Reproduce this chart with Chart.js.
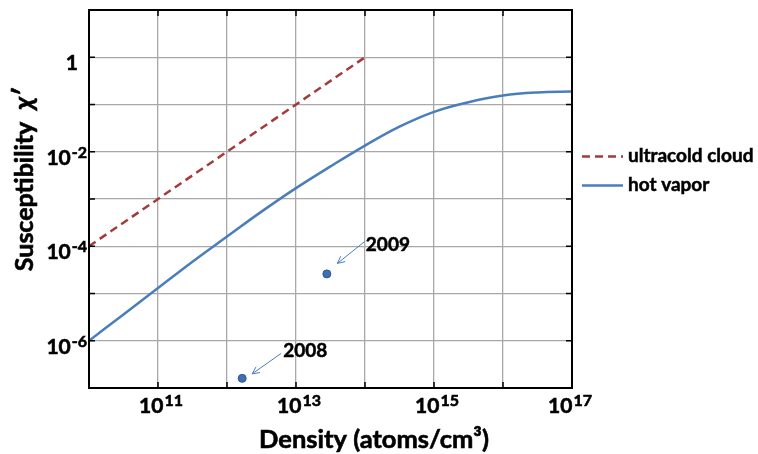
<!DOCTYPE html>
<html>
<head>
<meta charset="utf-8">
<script src="https://cdn.jsdelivr.net/npm/chart.js@4.4.1/dist/chart.umd.min.js"></script>
<style>
  html, body { margin: 0; padding: 0; background: #fff; }
  canvas { display: block; }
</style>
</head>
<body>
<canvas id="chiChart" width="758" height="454"></canvas>
<script>
// hot vapor: susceptibility vs atom density
const vaporDensity = [1e10, 3.16e10, 1e11, 3.16e11, 1e12, 3.16e12, 1e13, 3.16e13, 1e14, 3.16e14, 1e15, 3.16e15, 1e16, 3.16e16, 1e17];
const vaporChi = [1.0e-6, 3.6e-6, 1.3e-5, 4.7e-5, 1.6e-4, 5.4e-4, 1.7e-3, 4.9e-3, 1.35e-2, 3.4e-2, 7.0e-2, 1.12e-1, 1.55e-1, 1.8e-1, 1.88e-1];

// ultracold cloud
const coldDensity = [1e10, 1e14];
const coldChi = [1e-4, 1];

// measured points
const measYears = ['2008', '2009'];
const measDensity = [1.66e12, 2.8e13];
const measChi = [1.6e-7, 2.6e-5];

const xTickValues = [1e11, 1e13, 1e15, 1e17];
const xTickLabels = ['10^11', '10^13', '10^15', '10^17'];
const yTickValues = [1, 1e-2, 1e-4, 1e-6];
const yTickLabels = ['1', '10^-2', '10^-4', '10^-6'];

const BLUE = '#4a7ebb';
const RED = '#a33b3b';
const FONT = 'Lato, "DejaVu Sans", sans-serif';

// arrow offsets from each point (head, tail, text)
const notes = [
    { head: [10, -4.5], tail: [39, -25], text: [41, -27] },
    { head: [10.5, -10.5], tail: [38, -32.5], text: [39, -29.5] }
];

function decades(scale) {
    const ticks = [];
    const lo = Math.round(Math.log10(scale.min));
    const hi = Math.round(Math.log10(scale.max));
    for (let e = lo; e <= hi; e++) ticks.push({ value: Math.pow(10, e) });
    scale.ticks = ticks;
}

// bold text with a hairline stroke so it reads a bit heavier
function heavyText(ctx, txt, x, y) {
    ctx.fillText(txt, x, y);
    ctx.strokeText(txt, x, y);
}

// "10^n" with a raised exponent
function drawPower(ctx, label, x, baseline, align) {
    const parts = label.split('^');
    ctx.font = 'bold 21px ' + FONT;
    const bw = ctx.measureText(parts[0]).width;
    let ew = 0;
    if (parts[1]) {
        ctx.font = 'bold 16px ' + FONT;
        ew = ctx.measureText(parts[1]).width + 1;
    }
    const total = bw + ew;
    let left = x;
    if (align === 'right') left = x - total;
    if (align === 'center') left = x - total / 2;
    ctx.textAlign = 'left';
    ctx.textBaseline = 'alphabetic';
    ctx.font = 'bold 21px ' + FONT;
    heavyText(ctx, parts[0], left, baseline);
    if (parts[1]) {
        ctx.font = 'bold 16px ' + FONT;
        heavyText(ctx, parts[1], left + bw + 1, baseline - 7);
    }
}

function arrow(ctx, x1, y1, x2, y2) {
    const a = Math.atan2(y2 - y1, x2 - x1);
    const h = 8;
    ctx.beginPath();
    ctx.moveTo(x1, y1);
    ctx.lineTo(x2, y2);
    ctx.moveTo(x2 - h * Math.cos(a - 0.45), y2 - h * Math.sin(a - 0.45));
    ctx.lineTo(x2, y2);
    ctx.lineTo(x2 - h * Math.cos(a + 0.45), y2 - h * Math.sin(a + 0.45));
    ctx.stroke();
}

const decorations = {
    id: 'decorations',
    afterDraw(chart) {
        const ctx = chart.ctx;
        const area = chart.chartArea;
        const xs = chart.scales.x;
        const ys = chart.scales.y;
        ctx.save();

        // frame
        ctx.strokeStyle = '#000';
        ctx.lineWidth = 2;
        ctx.strokeRect(area.left, area.top, area.right - area.left, area.bottom - area.top);

        // inward tick marks on all four sides
        ctx.lineWidth = 1.5;
        ctx.beginPath();
        xs.ticks.forEach(t => {
            const px = xs.getPixelForValue(t.value);
            ctx.moveTo(px, area.bottom); ctx.lineTo(px, area.bottom - 6);
            ctx.moveTo(px, area.top); ctx.lineTo(px, area.top + 6);
        });
        ys.ticks.forEach(t => {
            const py = ys.getPixelForValue(t.value);
            ctx.moveTo(area.left, py); ctx.lineTo(area.left + 6, py);
            ctx.moveTo(area.right, py); ctx.lineTo(area.right - 6, py);
        });
        ctx.stroke();

        ctx.fillStyle = '#000';
        ctx.strokeStyle = '#000';
        ctx.lineWidth = 0.6;

        // tick labels
        xTickValues.forEach((v, i) => {
            const shift = i === xTickValues.length - 1 ? -2 : 3;
            drawPower(ctx, xTickLabels[i], xs.getPixelForValue(v) + shift, area.bottom + 25, 'center');
        });
        yTickValues.forEach((v, i) => {
            const py = ys.getPixelForValue(v);
            const edge = yTickLabels[i].includes('^') ? 87 : 78;
            drawPower(ctx, yTickLabels[i], edge, py + 13, 'right');
        });

        // axis titles
        ctx.textBaseline = 'alphabetic';
        ctx.textAlign = 'center';
        ctx.font = 'bold 25.5px ' + FONT;
        heavyText(ctx, 'Density (atoms/cm\u00b3)', 374, 448);

        ctx.save();
        ctx.translate(33, 180);
        ctx.rotate(-Math.PI / 2);
        ctx.font = 'bold 25px ' + FONT;
        const w1 = ctx.measureText('Susceptibility  ').width;
        ctx.font = 'italic bold 27px ' + FONT;
        const w2 = ctx.measureText('\u03c7\u2032').width;
        const sx = -(w1 + w2) / 2;
        ctx.textAlign = 'left';
        ctx.font = 'bold 25px ' + FONT;
        heavyText(ctx, 'Susceptibility  ', sx, 0);
        ctx.font = 'italic bold 27px ' + FONT;
        heavyText(ctx, '\u03c7\u2032', sx + w1, 0);
        ctx.restore();

        // legend
        ctx.lineWidth = 2.5;
        ctx.strokeStyle = RED;
        ctx.setLineDash([8, 5]);
        ctx.beginPath(); ctx.moveTo(582, 156.5); ctx.lineTo(623, 156.5); ctx.stroke();
        ctx.setLineDash([]);
        ctx.strokeStyle = BLUE;
        ctx.beginPath(); ctx.moveTo(582, 185.5); ctx.lineTo(623, 185.5); ctx.stroke();
        ctx.strokeStyle = '#000';
        ctx.lineWidth = 0.5;
        ctx.font = 'bold 19px ' + FONT;
        ctx.textAlign = 'left';
        ctx.textBaseline = 'middle';
        heavyText(ctx, 'ultracold cloud', 628, 156);
        heavyText(ctx, 'hot vapor', 628, 185);

        // year annotations with arrows
        const meta = chart.getDatasetMeta(2);
        meta.data.forEach((pt, i) => {
            const n = notes[i];
            ctx.strokeStyle = BLUE;
            ctx.lineWidth = 1;
            arrow(ctx, pt.x + n.tail[0], pt.y + n.tail[1], pt.x + n.head[0], pt.y + n.head[1]);
            ctx.strokeStyle = '#000';
            ctx.lineWidth = 0.5;
            ctx.font = 'bold 19px ' + FONT;
            ctx.textAlign = 'left';
            ctx.textBaseline = 'middle';
            heavyText(ctx, measYears[i], pt.x + n.text[0], pt.y + n.text[1]);
        });

        ctx.restore();
    }
};

new Chart(document.getElementById('chiChart'), {
    type: 'line',
    data: {
        datasets: [{
            label: 'ultracold cloud',
            data: coldDensity.map((d, i) => ({ x: d, y: coldChi[i] })),
            borderColor: RED,
            borderWidth: 2.5,
            borderDash: [8, 5],
            pointRadius: 0,
            fill: false
        }, {
            label: 'hot vapor',
            data: vaporDensity.map((d, i) => ({ x: d, y: vaporChi[i] })),
            borderColor: BLUE,
            borderWidth: 2.5,
            pointRadius: 0,
            tension: 0.4,
            fill: false
        }, {
            label: 'measured',
            data: measDensity.map((d, i) => ({ x: d, y: measChi[i] })),
            showLine: false,
            pointRadius: 4,
            pointBackgroundColor: '#3f6fb3',
            pointBorderColor: '#2c5590',
            pointBorderWidth: 1
        }]
    },
    options: {
        responsive: false,
        animation: false,
        layout: { padding: { left: 0, right: 186, top: 10, bottom: 0 } },
        plugins: {
            legend: { display: false },
            tooltip: { enabled: false }
        },
        scales: {
            x: {
                type: 'logarithmic',
                min: 1e10,
                max: 1e17,
                afterBuildTicks: decades,
                afterFit: s => { s.height = 66; },
                ticks: { display: false },
                grid: { color: '#a8a8a8', lineWidth: 1.3, drawTicks: false },
                border: { display: false }
            },
            y: {
                type: 'logarithmic',
                min: 1e-7,
                max: 10,
                afterBuildTicks: decades,
                afterFit: s => { s.width = 89; },
                ticks: { display: false },
                grid: { color: '#a8a8a8', lineWidth: 1.3, drawTicks: false },
                border: { display: false }
            }
        }
    },
    plugins: [decorations]
});
</script>
</body>
</html>
